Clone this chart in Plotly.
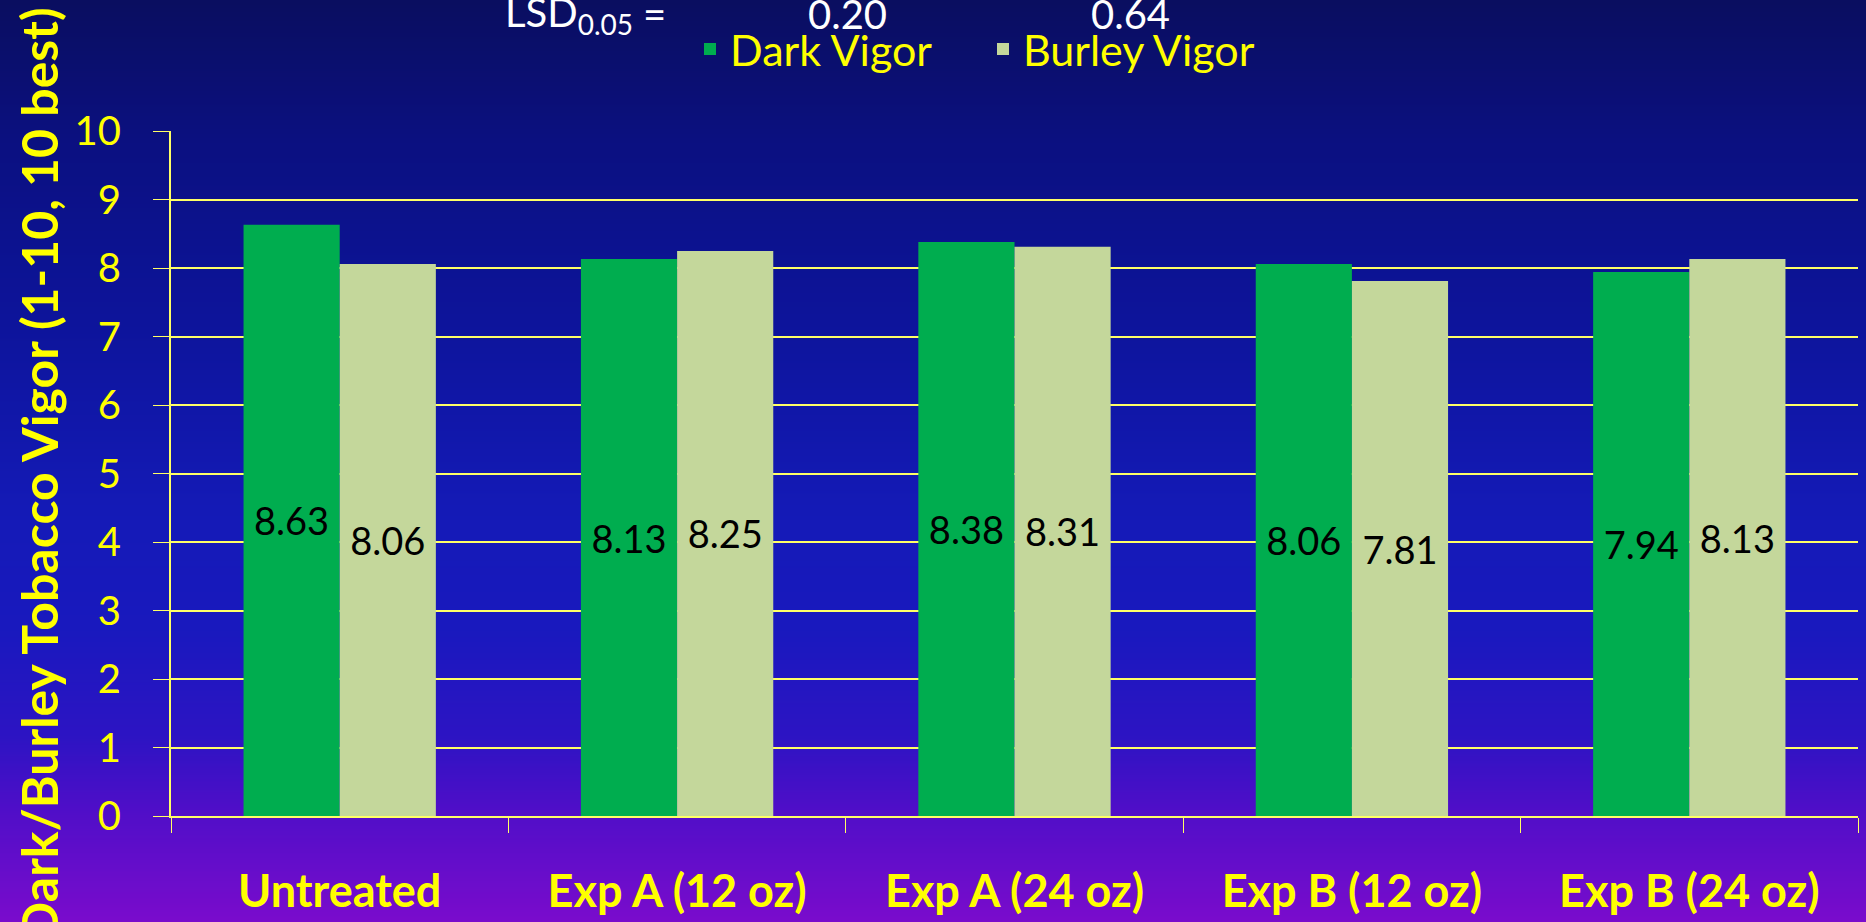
import base64
import struct
import zlib

import plotly.graph_objects as go

# ---------------- data ----------------
categories = ["Untreated", "Exp A (12 oz)", "Exp A (24 oz)", "Exp B (12 oz)", "Exp B (24 oz)"]
dark_vigor = [8.63, 8.13, 8.38, 8.06, 7.94]
burley_vigor = [8.06, 8.25, 8.31, 7.81, 8.13]
series_names = ["Dark Vigor", "Burley Vigor"]
lsd_values = [0.20, 0.64]
y_title = "Dark/Burley Tobacco Vigor (1-10, 10 best)"

# ---------------- layout geometry ----------------
W, H = 1866, 922
L, R, T, B = 171, 8, 131, 106
PW, PH = W - L - R, H - T - B


def px_x(px):
    return (px - L) / PW


def px_y(py):
    return (H - B - py) / PH


YELLOW = "#FFFF00"
GRID = "#FFFF66"
GREEN = "#00AD4F"
LIGHT = "#C4D79B"
FONT = "Lato"

# background gradient (top -> bottom)
grad_stops = [
    (0.00, (10, 14, 96)),
    (0.15, (11, 16, 128)),
    (0.35, (13, 20, 155)),
    (0.55, (20, 26, 182)),
    (0.68, (25, 25, 190)),
    (0.80, (45, 20, 195)),
    (0.88, (80, 14, 200)),
    (1.00, (122, 12, 204)),
]


def gradient_png(stops, n=512, w=2):
    rows = b""
    for i in range(n):
        f = i / (n - 1)
        c = stops[-1][1]
        for j in range(len(stops) - 1):
            f0, c0 = stops[j]
            f1, c1 = stops[j + 1]
            if f0 <= f <= f1:
                t = (f - f0) / (f1 - f0) if f1 > f0 else 0
                c = tuple(round(c0[k] + (c1[k] - c0[k]) * t) for k in range(3))
                break
        rows += b"\x00" + bytes(c) * w

    def chunk(tag, data):
        return (struct.pack(">I", len(data)) + tag + data
                + struct.pack(">I", zlib.crc32(tag + data) & 0xFFFFFFFF))

    png = (b"\x89PNG\r\n\x1a\n"
           + chunk(b"IHDR", struct.pack(">IIBBBBB", w, n, 8, 2, 0, 0, 0))
           + chunk(b"IDAT", zlib.compress(rows))
           + chunk(b"IEND", b""))
    return "data:image/png;base64," + base64.b64encode(png).decode()


fig = go.Figure()
for name, vals, col in [(series_names[0], dark_vigor, GREEN), (series_names[1], burley_vigor, LIGHT)]:
    fig.add_trace(go.Bar(
        x=categories, y=vals, name=name, marker=dict(color=col, line=dict(width=0)),
        text=[f"{v:.2f}" for v in vals], textposition="inside", insidetextanchor="middle",
        textangle=0, constraintext="none",
        textfont=dict(family=FONT, size=38, color="black"),
    ))

annotations = []
lsd_parts = [
    ("LSD<sub>0.05</sub>", 503, "left"),
    ("=", 654, "center"),
    (f"{lsd_values[0]:.2f}", 847, "center"),
    (f"{lsd_values[1]:.2f}", 1130, "center"),
]
for txt, xp, anc in lsd_parts:
    annotations.append(dict(
        text=txt, xref="paper", yref="paper", x=px_x(xp), y=px_y(14),
        xanchor=anc, yanchor="middle", showarrow=False,
        font=dict(family=FONT, size=40, color="white"),
    ))

fig.update_layout(
    width=W, height=H,
    margin=dict(l=L, r=R, t=T, b=B, autoexpand=False),
    paper_bgcolor="#0A0E60",
    plot_bgcolor="rgba(0,0,0,0)",
    barmode="group", bargap=0.43, bargroupgap=0,
    showlegend=True,
    legend=dict(orientation="h", x=px_x(690), y=px_y(49), xanchor="left", yanchor="middle",
                font=dict(family=FONT, size=43, color=YELLOW), bgcolor="rgba(0,0,0,0)",
                entrywidth=248, entrywidthmode="pixels",
                traceorder="normal"),
    images=[dict(source=gradient_png(grad_stops), xref="paper", yref="paper",
                 x=px_x(0), y=px_y(0), sizex=W / PW, sizey=H / PH,
                 xanchor="left", yanchor="top", sizing="stretch", layer="below")],
    annotations=annotations,
    xaxis=dict(
        automargin=False,
        showgrid=False, showline=True, linecolor=GRID, linewidth=2,
        ticks="outside", tickson="boundaries", ticklen=15, tickcolor=GRID, tickwidth=1,
        tickfont=dict(family=FONT, size=45, color=YELLOW, weight=700),
        ticklabelstandoff=35,
    ),
    yaxis=dict(
        automargin=False,
        range=[0, 10], dtick=1, tick0=0,
        showgrid=True, gridcolor=GRID, gridwidth=2, zeroline=False,
        showline=True, linecolor=GRID, linewidth=2,
        ticks="outside", ticklen=16, tickcolor=GRID, tickwidth=1,
        tickfont=dict(family=FONT, size=40, color=YELLOW),
        ticklabelstandoff=24,
        title=dict(text=y_title, font=dict(family=FONT, size=50, color=YELLOW, weight=700), standoff=0),
    ),
)

fig.write_html("out.html", config={"displayModeBar": False},
               post_script="document.body.style.margin='0';document.body.style.overflow='hidden';")
